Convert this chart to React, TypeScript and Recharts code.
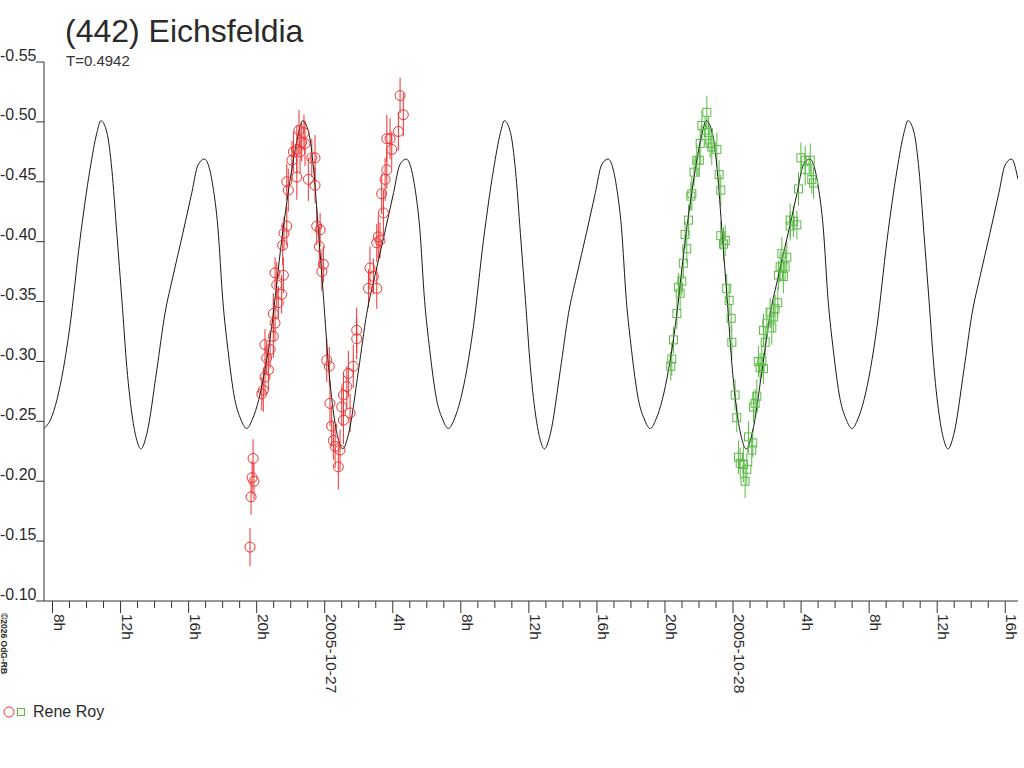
import { ComposedChart, Line, Scatter, XAxis, YAxis, ErrorBar } from "recharts";

// hours are counted from 2005-10-27 00:00, magnitudes are relative
const RED = "#f03232";
const GREEN = "#5cbb46";
const AXIS = "#333";
const TEXT = "#2a2a2a";
const FONT = '"Liberation Sans", Arial, sans-serif';

const Y_TICKS = [-0.55, -0.5, -0.45, -0.4, -0.35, -0.3, -0.25, -0.2, -0.15, -0.1];

const MAJOR_TICKS = [-16, -12, -8, -4, 0, 4, 8, 12, 16, 20, 24, 28, 32, 36, 40];
const MAJOR_LABELS = [
  "8h", "12h", "16h", "20h", "2005-10-27", "4h", "8h", "12h",
  "16h", "20h", "2005-10-28", "4h", "8h", "12h", "16h",
];
const MINOR_TICKS = [
  -15, -14, -13, -11, -10, -9, -7, -6, -5, -3, -2, -1, 1, 2, 3, 5, 6, 7, 9, 10, 11,
  13, 14, 15, 17, 18, 19, 21, 22, 23, 25, 26, 27, 29, 30, 31, 33, 34, 35, 37, 38, 39,
];

// fitted lightcurve (T=0.4942 d)
const curveHours = [
  -16.5, -16.1, -15.74, -14.98, -14.39, -13.8, -13.39, -13.16, -12.8, -12.51, -12.22, -11.92, -11.63, -11.28, -11.04,
  -10.81, -10.45, -9.87, -9.39, -8.92, -8.34, -7.81, -7.45, -7.07, -6.57, -6.28, -5.99, -5.69, -5.28, -4.94,
  -4.59, -4.24, -3.88, -3.12, -2.53, -1.94, -1.53, -1.3, -0.94, -0.65, -0.36, -0.06, 0.23, 0.58, 0.82,
  1.05, 1.41, 1.99, 2.47, 2.94, 3.52, 4.05, 4.41, 4.79, 5.29, 5.58, 5.87, 6.17, 6.58, 6.92,
  7.27, 7.62, 7.98, 8.74, 9.33, 9.92, 10.33, 10.56, 10.92, 11.21, 11.5, 11.8, 12.09, 12.44, 12.68,
  12.91, 13.27, 13.85, 14.33, 14.8, 15.38, 15.91, 16.27, 16.65, 17.15, 17.44, 17.73, 18.03, 18.44, 18.78,
  19.13, 19.48, 19.84, 20.6, 21.19, 21.78, 22.19, 22.42, 22.78, 23.07, 23.36, 23.66, 23.95, 24.3, 24.54,
  24.77, 25.13, 25.71, 26.19, 26.66, 27.24, 27.77, 28.13, 28.51, 29.01, 29.3, 29.59, 29.89, 30.3, 30.64,
  30.99, 31.34, 31.7, 32.46, 33.05, 33.64, 34.05, 34.28, 34.64, 34.93, 35.22, 35.52, 35.81, 36.16, 36.4,
  36.63, 36.99, 37.57, 38.05, 38.52, 39.1, 39.63, 39.99, 40.37, 40.75,
];
const curveMags = [
  -0.244, -0.252, -0.268, -0.329, -0.401, -0.46, -0.491, -0.501, -0.491, -0.46, -0.407, -0.351, -0.295, -0.251, -0.234,
  -0.227, -0.24, -0.293, -0.34, -0.371, -0.407, -0.441, -0.464, -0.469, -0.446, -0.412, -0.351, -0.31, -0.268, -0.252,
  -0.244, -0.252, -0.268, -0.329, -0.401, -0.46, -0.491, -0.501, -0.491, -0.46, -0.407, -0.351, -0.295, -0.251, -0.234,
  -0.227, -0.24, -0.293, -0.34, -0.371, -0.407, -0.441, -0.464, -0.469, -0.446, -0.412, -0.351, -0.31, -0.268, -0.252,
  -0.244, -0.252, -0.268, -0.329, -0.401, -0.46, -0.491, -0.501, -0.491, -0.46, -0.407, -0.351, -0.295, -0.251, -0.234,
  -0.227, -0.24, -0.293, -0.34, -0.371, -0.407, -0.441, -0.464, -0.469, -0.446, -0.412, -0.351, -0.31, -0.268, -0.252,
  -0.244, -0.252, -0.268, -0.329, -0.401, -0.46, -0.491, -0.501, -0.491, -0.46, -0.407, -0.351, -0.295, -0.251, -0.234,
  -0.227, -0.24, -0.293, -0.34, -0.371, -0.407, -0.441, -0.464, -0.469, -0.446, -0.412, -0.351, -0.31, -0.268, -0.252,
  -0.244, -0.252, -0.268, -0.329, -0.401, -0.46, -0.491, -0.501, -0.491, -0.46, -0.407, -0.351, -0.295, -0.251, -0.234,
  -0.227, -0.24, -0.293, -0.34, -0.371, -0.407, -0.441, -0.464, -0.469, -0.452,
];

// Rene Roy, night 1 (circles)
const redHours = [
  -4.39, -4.33, -4.27, -4.16, -4.21, -3.7, -3.61, -3.51, -3.31, -3.41, -3.21, -3.51, -3.02, -2.92, -3.02, -2.73,
  -2.53, -2.82, -2.43, -2.92, -2.47, -2.39, -2.23, -2.14, -2.23, -1.64, -1.93, -1.84, -1.64, -1.45, -1.35, -1.16,
  -1.51, -1.22, -0.76, -0.57, -0.96, -0.57, -0.47, -0.32, -0.27, -0.08, -0.17, 0.12, 0.27, 0.31, 0.41, 0.51,
  0.61, 0.9, 0.8, 1.0, 1.1, 1.1, 1.3, 1.39, 1.49, 1.68, 1.88, 1.88, 2.57, 2.66, 2.86, 3.06, 3.06, 3.15, 3.25,
  3.35, 3.45, 3.55, 3.65, 3.65, 3.84, 3.94, 4.33, 4.62, 4.43,
];
const redMags = [
  -0.145, -0.187, -0.203, -0.2, -0.219, -0.273, -0.276, -0.287, -0.293, -0.303, -0.31, -0.314, -0.321, -0.332, -0.34, -0.349,
  -0.356, -0.364, -0.372, -0.374, -0.397, -0.407, -0.413, -0.443, -0.45, -0.454, -0.468, -0.475, -0.477, -0.475, -0.483, -0.482,
  -0.493, -0.491, -0.47, -0.47, -0.452, -0.447, -0.413, -0.396, -0.41, -0.381, -0.375, -0.301, -0.296, -0.265, -0.246, -0.234,
  -0.229, -0.226, -0.212, -0.262, -0.272, -0.251, -0.279, -0.29, -0.257, -0.296, -0.319, -0.326, -0.361, -0.378, -0.371, -0.361, -0.399, -0.404, -0.401,
  -0.44, -0.424, -0.452, -0.46, -0.486, -0.486, -0.477, -0.492, -0.506, -0.522,
];
const redErrs = [
  0.016, 0.015, 0.014, 0.015, 0.016, 0.014, 0.018, 0.015, 0.017, 0.014, 0.016, 0.013, 0.018, 0.015, 0.017, 0.014,
  0.016, 0.019, 0.015, 0.013, 0.017, 0.014, 0.016, 0.018, 0.015, 0.019, 0.016, 0.017, 0.02, 0.018, 0.016, 0.019,
  0.017, 0.015, 0.016, 0.019, 0.018, 0.015, 0.016, 0.017, 0.014, 0.015, 0.016, 0.018, 0.016, 0.019, 0.017, 0.016,
  0.018, 0.017, 0.019, 0.016, 0.018, 0.02, 0.017, 0.019, 0.016, 0.018, 0.017, 0.019, 0.016, 0.018, 0.015, 0.017, 0.016, 0.018, 0.015,
  0.017, 0.019, 0.018, 0.016, 0.02, 0.017, 0.015, 0.016, 0.018, 0.015,
];

// Rene Roy, night 2 (squares)
const greenHours = [
  20.34, 20.4, 20.5, 20.7, 20.79, 20.89, 20.99, 21.08, 21.18, 21.28, 21.38, 21.52, 21.58, 21.71, 21.87, 22.02,
  22.07, 22.17, 22.36, 22.46, 22.55, 22.65, 22.75, 23.05, 23.18, 23.28, 23.28, 23.54, 23.44, 23.63, 23.77, 23.89,
  23.93, 24.12, 24.22, 24.32, 24.42, 24.61, 24.81, 24.71, 24.91, 25.16, 25.1, 25.2, 25.3, 25.4, 25.49, 25.59,
  25.69, 25.79, 25.89, 25.79, 25.99, 26.18, 26.28, 26.37, 26.47, 26.63, 26.67, 26.96, 26.77, 27.06, 26.87, 27.16,
  27.36, 27.36, 27.55, 27.75, 27.85, 27.99, 28.24, 28.54, 28.24, 28.63, 28.73,
];
const greenMags = [
  -0.296, -0.302, -0.318, -0.34, -0.362, -0.357, -0.367, -0.382, -0.406, -0.394, -0.418, -0.438, -0.44, -0.458, -0.468, -0.468,
  -0.482, -0.497, -0.493, -0.508, -0.491, -0.482, -0.479, -0.477, -0.456, -0.443, -0.405, -0.401, -0.398, -0.361, -0.351, -0.336,
  -0.316, -0.272, -0.253, -0.22, -0.215, -0.214, -0.21, -0.2, -0.237, -0.232, -0.226, -0.262, -0.265, -0.271, -0.3, -0.295,
  -0.3, -0.294, -0.316, -0.326, -0.332, -0.341, -0.328, -0.337, -0.344, -0.349, -0.372, -0.371, -0.379, -0.379, -0.39, -0.387,
  -0.413, -0.418, -0.417, -0.414, -0.444, -0.47, -0.468, -0.468, -0.46, -0.452, -0.449,
];
const greenErrs = [
  0.012, 0.014, 0.011, 0.013, 0.012, 0.014, 0.012, 0.013, 0.011, 0.012, 0.013, 0.012, 0.014, 0.012, 0.013, 0.014,
  0.012, 0.013, 0.012, 0.014, 0.013, 0.012, 0.015, 0.014, 0.012, 0.013, 0.012, 0.013, 0.014, 0.012, 0.013, 0.012,
  0.014, 0.013, 0.012, 0.014, 0.013, 0.015, 0.013, 0.014, 0.013, 0.012, 0.014, 0.013, 0.012, 0.014, 0.013, 0.012,
  0.014, 0.013, 0.012, 0.014, 0.013, 0.012, 0.014, 0.013, 0.012, 0.013, 0.012, 0.014, 0.013, 0.012, 0.014, 0.013,
  0.012, 0.014, 0.013, 0.012, 0.014, 0.013, 0.012, 0.014, 0.013, 0.012, 0.013,
];

const curveData = curveHours.map((h, i) => ({ h, mag: curveMags[i] }));
const redData = redHours.map((h, i) => ({ h, mag: redMags[i], err: redErrs[i] }));
const greenData = greenHours.map((h, i) => ({ h, mag: greenMags[i], err: greenErrs[i] }));
const xTicks = [...MAJOR_TICKS, ...MINOR_TICKS].sort((a, b) => a - b);

const RedCircle = (p: any) => (
  <circle cx={p.cx} cy={p.cy} r={5} fill="none" stroke={RED} strokeWidth={1} />
);
const GreenSquare = (p: any) => (
  <rect x={p.cx - 4} y={p.cy - 4} width={8} height={8} fill="none" stroke={GREEN} strokeWidth={1} />
);

const YTick = ({ x, y, payload }: any) => (
  <text x={x + 2.5} y={y - 1.5} textAnchor="end" fontSize={16} fontFamily={FONT} fill={TEXT}>
    {payload.value.toFixed(2)}
  </text>
);

const XTick = ({ x, y, payload }: any) => {
  const i = MAJOR_TICKS.indexOf(payload.value);
  const major = i >= 0;
  return (
    <g>
      <line x1={x} x2={x} y1={y} y2={y + (major ? 12 : 7)} stroke={AXIS} />
      {major && (
        <text
          x={x + 1}
          y={y + 13}
          transform={`rotate(90 ${x + 1} ${y + 13})`}
          fontSize={15.5}
          fontFamily={FONT}
          fill={TEXT}
        >
          {MAJOR_LABELS[i]}
        </text>
      )}
    </g>
  );
};

export default function App() {
  return (
    <div
      style={{
        position: "absolute",
        left: 0,
        top: 0,
        width: 1024,
        height: 768,
        background: "#fff",
        fontFamily: FONT,
        color: TEXT,
      }}
    >
      <div style={{ position: "absolute", left: 65, top: 15, fontSize: 32, lineHeight: "32px" }}>
        (442) Eichsfeldia
      </div>
      <div style={{ position: "absolute", left: 66, top: 53, fontSize: 15, lineHeight: "15px", color: "#333" }}>
        T=0.4942
      </div>

      <div style={{ position: "absolute", left: 0, top: 0 }}>
        <ComposedChart width={1024} height={768} margin={{ top: 62, right: 6, bottom: 0, left: 0 }}>
          <XAxis
            type="number"
            dataKey="h"
            domain={[-16.5, 40.75]}
            ticks={xTicks}
            interval={0}
            height={167}
            allowDataOverflow
            axisLine={{ stroke: AXIS }}
            tickLine={false}
            tickSize={0}
            tickMargin={0}
            tick={XTick}
          />
          <YAxis
            type="number"
            domain={[-0.55, -0.1]}
            reversed
            ticks={Y_TICKS}
            interval={0}
            width={44}
            allowDataOverflow
            axisLine={{ stroke: AXIS }}
            tickLine={{ stroke: AXIS }}
            tickSize={8}
            tick={YTick}
          />
          <Scatter data={redData} dataKey="mag" shape={RedCircle} isAnimationActive={false}>
            <ErrorBar dataKey="err" direction="y" width={0} stroke={RED} strokeWidth={1} />
          </Scatter>
          <Scatter data={greenData} dataKey="mag" shape={GreenSquare} isAnimationActive={false}>
            <ErrorBar dataKey="err" direction="y" width={0} stroke={GREEN} strokeWidth={1} />
          </Scatter>
          <Line
            data={curveData}
            dataKey="mag"
            type="monotone"
            stroke="#1a1a1a"
            strokeWidth={1}
            dot={false}
            isAnimationActive={false}
          />
        </ComposedChart>
      </div>

      <svg style={{ position: "absolute", left: 0, top: 600 }} width={12} height={100}>
        <text x={1} y={13} transform="rotate(90 1 13)" fontSize={8.5} fontWeight="bold" fontFamily={FONT} fill={TEXT}>
          ©2026 OdG-RB
        </text>
      </svg>

      <svg style={{ position: "absolute", left: 0, top: 700 }} width={30} height={24}>
        <circle cx={9} cy={12} r={5} fill="none" stroke={RED} />
        <rect x={17.5} y={8.5} width={7} height={7} fill="none" stroke={GREEN} />
      </svg>
      <div style={{ position: "absolute", left: 33, top: 704, fontSize: 16, lineHeight: "16px" }}>
        Rene Roy
      </div>
    </div>
  );
}
